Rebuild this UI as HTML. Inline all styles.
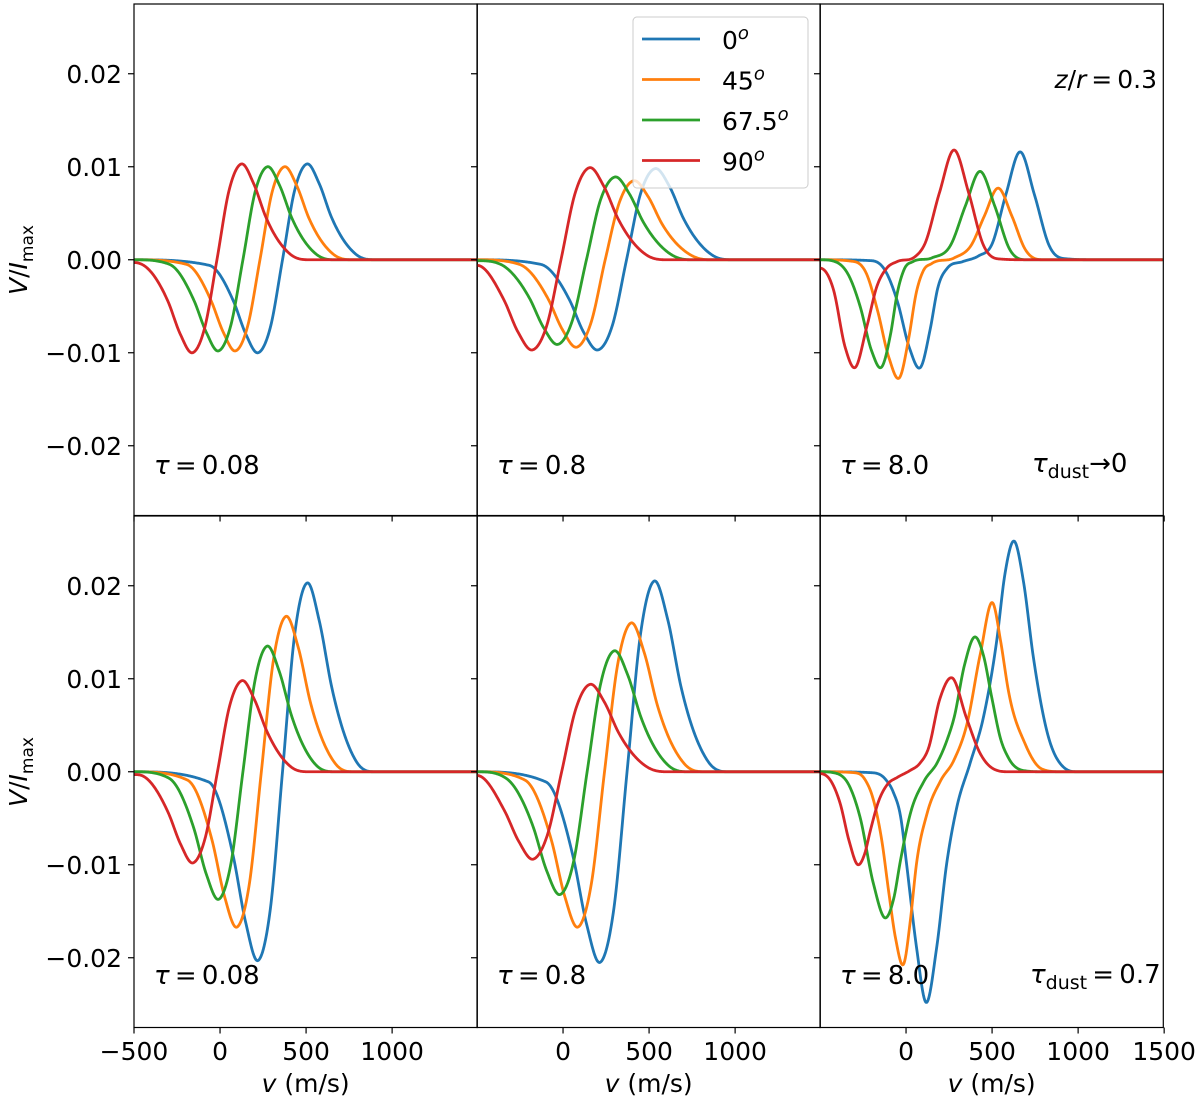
<!DOCTYPE html>
<html><head><meta charset="utf-8">
<style>
html,body{margin:0;padding:0;background:#fff;}
svg{display:block;font-family:"DejaVu Sans","Liberation Sans",sans-serif;}
</style></head>
<body>
<svg id="chart" width="1200" height="1101" viewBox="0 0 1200 1101" xmlns="http://www.w3.org/2000/svg"></svg>
<script>
// ---- data ----
const xTicksFirst = [-500, 0, 500, 1000];
const xTicksMid = [0, 500, 1000];
const xTicksLast = [0, 500, 1000, 1500];
const yTicks = [-0.02, -0.01, 0.00, 0.01, 0.02];
const yTickLabels = ["\u22120.02", "\u22120.01", "0.00", "0.01", "0.02"];
const seriesNames = ["0", "45", "67.5", "90"];
const seriesColors = ["#1f77b4", "#ff7f0e", "#2ca02c", "#d62728"];
const tauLabels = ["0.08", "0.8", "8.0"];

// knots [v, V] per curve: panel r{row}c{col}, order blue, orange, green, red
const r0c0_blue   = [[-500,0],[-63,-0.0006],[79,-0.0045],[150,-0.0080],[221,-0.0100],[292,-0.0073],[363,0],[434,0.0075],[505,0.0103],[576,0.0082],[647,0.0046],[789,0.0006],[900,0],[1500,0]];
const r0c0_orange = [[-500,0],[-194,-0.0005],[-52,-0.0044],[19,-0.0078],[90,-0.0098],[161,-0.0071],[232,0],[303,0.0073],[374,0.0100],[445,0.0080],[516,0.0045],[658,0.0006],[760,0],[1500,0]];
const r0c0_green  = [[-500,0],[-293,-0.0005],[-151,-0.0044],[-80,-0.0078],[-9,-0.0098],[62,-0.0071],[133,0],[204,0.0073],[275,0.0100],[346,0.0080],[417,0.0045],[559,0.0006],[660,0],[1500,0]];
const r0c0_red    = [[-500,-0.0003],[-444,-0.0006],[-302,-0.0045],[-231,-0.0080],[-160,-0.0100],[-89,-0.0073],[-18,0],[53,0.0075],[124,0.0103],[195,0.0082],[266,0.0046],[408,0.0006],[520,0],[1500,0]];

const r0c1_blue   = [[-500,0],[-129,-0.0005],[37,-0.0043],[120,-0.0078],[203,-0.0097],[286,-0.0071],[369,0],[452,0.0072],[535,0.0098],[618,0.0079],[701,0.0044],[867,0.0005],[980,0],[1500,0]];
const r0c1_orange = [[-500,0],[-253,-0.0005],[-87,-0.0042],[-4,-0.0075],[79,-0.0094],[162,-0.0068],[245,0],[328,0.0062],[411,0.0085],[494,0.0068],[577,0.0038],[743,0.0005],[850,0],[1500,0]];
const r0c1_green  = [[-500,-0.0001],[-362,-0.0005],[-196,-0.0041],[-113,-0.0073],[-30,-0.0091],[53,-0.0066],[136,0],[219,0.0065],[302,0.0089],[385,0.0071],[468,0.0040],[634,0.0005],[740,0],[1500,0]];
const r0c1_red    = [[-500,-0.0006],[-344,-0.0043],[-261,-0.0078],[-178,-0.0097],[-95,-0.0071],[-12,0],[71,0.0072],[154,0.0099],[237,0.0079],[320,0.0044],[486,0.0005],[600,0],[1500,0]];

const r0c2_blue   = [[-500,0],[-200,-0.0001],[-120,-0.0012],[-50,-0.0045],[20,-0.0095],[87,-0.0115],[140,-0.0075],[185,-0.0030],[240,-0.0009],[330,-0.0002],[420,0.0004],[500,0.0017],[580,0.0070],[663,0.0116],[746,0.0070],[830,0.0016],[935,0.0001],[1100,0],[1500,0]];
const r0c2_orange = [[-500,0],[-300,-0.0002],[-230,-0.0015],[-165,-0.0055],[-100,-0.0105],[-35,-0.0126],[15,-0.0085],[60,-0.0035],[100,-0.0012],[150,-0.0004],[280,0.0002],[380,0.0016],[455,0.0047],[535,0.0077],[615,0.0047],[690,0.0012],[800,0],[1500,0]];
const r0c2_green  = [[-500,0],[-400,-0.0003],[-330,-0.0018],[-267,-0.0050],[-200,-0.0098],[-140,-0.0115],[-90,-0.0080],[-50,-0.0035],[-10,-0.0010],[40,-0.0002],[150,0.0002],[260,0.0016],[345,0.0058],[430,0.0095],[515,0.0058],[600,0.0012],[700,0],[1500,0]];
const r0c2_red    = [[-500,-0.0009],[-422,-0.0032],[-354,-0.0094],[-297,-0.0116],[-228,-0.0072],[-170,-0.0029],[-112,-0.0009],[-52,-0.0002],[50,0.0003],[109,0.0017],[194,0.0072],[279,0.0118],[364,0.0072],[449,0.0016],[534,0.0001],[700,0],[1500,0]];

const r1c0_blue   = [[-500,0],[-66,-0.0011],[77,-0.0091],[149,-0.0162],[221,-0.0203],[292,-0.0148],[363,0],[434,0.0148],[506,0.0203],[577,0.0162],[649,0.0091],[792,0.0011],[900,0],[1500,0]];
const r1c0_orange = [[-500,0],[-189,-0.0009],[-46,-0.0074],[26,-0.0134],[99,-0.0167],[170,-0.0121],[240,0],[311,0.0121],[382,0.0167],[454,0.0134],[526,0.0074],[669,0.0009],[780,0],[1500,0]];
const r1c0_green  = [[-500,0],[-296,-0.0007],[-152,-0.0061],[-80,-0.0110],[-6,-0.0137],[63,-0.0099],[133,0],[203,0.0098],[272,0.0135],[344,0.0108],[416,0.0060],[559,0.0007],[670,0],[1500,0]];
const r1c0_red    = [[-500,-0.0003],[-444,-0.0005],[-301,-0.0044],[-229,-0.0078],[-157,-0.0098],[-86,-0.0071],[-15,0],[56,0.0071],[128,0.0098],[199,0.0078],[271,0.0044],[414,0.0005],[520,0],[1500,0]];

const r1c1_blue   = [[-500,0],[-99,-0.0011],[58,-0.0091],[137,-0.0164],[215,-0.0205],[294,-0.0149],[372,0],[451,0.0149],[529,0.0205],[608,0.0164],[686,0.0091],[843,0.0011],[960,0],[1500,0]];
const r1c1_orange = [[-500,0],[-221,-0.0009],[-67,-0.0074],[10,-0.0134],[87,-0.0167],[164,-0.0121],[241,0],[318,0.0116],[395,0.0160],[472,0.0128],[549,0.0071],[703,0.0009],[820,0],[1500,0]];
const r1c1_green  = [[-500,0],[-331,-0.0007],[-174,-0.0059],[-96,-0.0106],[-17,-0.0132],[62,-0.0096],[140,0],[219,0.0095],[297,0.0130],[376,0.0104],[454,0.0058],[611,0.0007],[720,0],[1500,0]];
const r1c1_red    = [[-500,-0.0004],[-340,-0.0042],[-257,-0.0075],[-174,-0.0094],[-91,-0.0068],[-8,0],[75,0.0068],[157,0.0094],[240,0.0075],[323,0.0042],[490,0.0005],[600,0],[1500,0]];

const r1c2_blue   = [[-500,0],[-200,-0.0001],[-120,-0.0008],[-74,-0.0022],[-30,-0.0050],[3,-0.0099],[61,-0.0189],[116,-0.0248],[178,-0.0189],[236,-0.0099],[294,-0.0039],[372,0.0009],[449,0.0058],[527,0.0141],[575,0.0213],[628,0.0248],[682,0.0205],[740,0.0123],[818,0.0044],[915,0.0005],[1000,0],[1500,0]];
const r1c2_orange = [[-500,0],[-300,-0.0001],[-240,-0.0008],[-190,-0.0030],[-140,-0.0075],[-100,-0.0130],[-60,-0.0180],[-12,-0.0206],[25,-0.0160],[60,-0.0100],[122,-0.0045],[200,-0.0010],[277,0.0012],[355,0.0052],[432,0.0127],[506,0.0181],[550,0.0140],[595,0.0087],[692,0.0030],[789,0.0003],[900,0],[1500,0]];
const r1c2_green  = [[-500,0],[-400,-0.0002],[-330,-0.0015],[-267,-0.0049],[-190,-0.0120],[-116,-0.0157],[-70,-0.0135],[-33,-0.0096],[25,-0.0045],[105,-0.0010],[182,0.0010],[240,0.0035],[279,0.0058],[340,0.0115],[401,0.0145],[450,0.0125],[498,0.0080],[550,0.0035],[595,0.0015],[692,0.0001],[800,0],[1500,0]];
const r1c2_red    = [[-500,-0.0002],[-430,-0.0012],[-383,-0.0034],[-330,-0.0075],[-279,-0.0100],[-240,-0.0088],[-207,-0.0063],[-160,-0.0032],[-110,-0.0014],[-50,-0.0006],[20,0.0001],[80,0.0009],[130,0.0025],[196,0.0078],[267,0.0101],[351,0.0058],[430,0.0020],[500,0.0004],[600,0],[1500,0]];

const panelCurves = [
  [[r0c0_blue,r0c0_orange,r0c0_green,r0c0_red],[r0c1_blue,r0c1_orange,r0c1_green,r0c1_red],[r0c2_blue,r0c2_orange,r0c2_green,r0c2_red]],
  [[r1c0_blue,r1c0_orange,r1c0_green,r1c0_red],[r1c1_blue,r1c1_orange,r1c1_green,r1c1_red],[r1c2_blue,r1c2_orange,r1c2_green,r1c2_red]]
];

// ---- layout ----
const NS = "http://www.w3.org/2000/svg";
const svg = document.getElementById('chart');
const colX = [134, 477, 820];
const panelW = 343.3;
const rowY = [4, 516];
const panelH = 511.5;
const xMin = -500, xMax = 1495;
const yMin = -0.0275, yMax = 0.0275;
function sx(c, v){ return colX[c] + (v - xMin) / (xMax - xMin) * panelW; }
function sy(r, V){ return rowY[r] + (yMax - V) / (yMax - yMin) * panelH; }

function mk(tag, attrs, parent){
  const e = document.createElementNS(NS, tag);
  for (const k in attrs) e.setAttribute(k, attrs[k]);
  (parent || svg).appendChild(e);
  return e;
}
// Hermite spline evaluated as a function of v (no x overshoot)
function tangents(k){
  const n = k.length, m = new Array(n).fill(0);
  for (let i = 1; i < n - 1; i++){
    const h0 = k[i][0] - k[i-1][0], h1 = k[i+1][0] - k[i][0];
    const d0 = (k[i][1] - k[i-1][1]) / h0, d1 = (k[i+1][1] - k[i][1]) / h1;
    m[i] = (d0 * h1 + d1 * h0) / (h0 + h1);
    // limit to avoid overshoot near flat parts
    if (d0 * d1 <= 0 && (Math.abs(d0) < 1e-9 || Math.abs(d1) < 1e-9)) m[i] = 0;
    const lim = 3 * Math.min(Math.abs(d0), Math.abs(d1));
    if (d0 * d1 > 0 && Math.abs(m[i]) > lim) m[i] = Math.sign(m[i]) * lim;
  }
  return m;
}
function evalCurve(k, m, v){
  if (v <= k[0][0]) return k[0][1];
  if (v >= k[k.length-1][0]) return k[k.length-1][1];
  let i = 0;
  while (k[i+1][0] < v) i++;
  const h = k[i+1][0] - k[i][0], t = (v - k[i][0]) / h;
  const t2 = t*t, t3 = t2*t;
  return (2*t3-3*t2+1)*k[i][1] + (t3-2*t2+t)*h*m[i] + (-2*t3+3*t2)*k[i+1][1] + (t3-t2)*h*m[i+1];
}
function curvePath(c, r, k){
  const m = tangents(k);
  let d = '';
  for (let v = xMin; v <= xMax; v += 4){
    const x = sx(c, v), y = sy(r, evalCurve(k, m, v));
    d += (d ? ' L' : 'M') + x.toFixed(2) + ',' + y.toFixed(2);
  }
  return d;
}

for (let r = 0; r < 2; r++){
  for (let c = 0; c < 3; c++){
    const g = mk('g', {});
    
    
    const clipId = 'clip' + r + c;
    const cp = mk('clipPath', {id: clipId}, g);
    mk('rect', {x: colX[c], y: rowY[r], width: panelW, height: panelH}, cp);
    const curves = panelCurves[r][c];
    for (let s = 0; s < curves.length; s++){
      const p = mk('path', {d: curvePath(c, r, curves[s]), fill: 'none', stroke: seriesColors[s], 'stroke-width': 2.8, 'clip-path': 'url(#' + clipId + ')', 'stroke-linejoin':'round'}, g);
      
      
    }
    for (let i = 0; i < yTicks.length; i++){
      const y = sy(r, yTicks[i]);
      const tk = mk('line', {x1: colX[c]-6, x2: colX[c], y1: y, y2: y, stroke:'#000', 'stroke-width':1.2}, g);
      
      
      if (c === 0){
        const t = mk('text', {x: 122, y: y + 9, 'font-size': 25, 'text-anchor': 'end', fill: '#000'}, g);
        t.textContent = yTickLabels[i];
        
        
      }
    }
    const xt = c === 0 ? xTicksFirst : (c === 1 ? xTicksMid : xTicksLast);
    for (let i = 0; i < xt.length; i++){
      const x = sx(c, xt[i]);
      const by = rowY[r] + panelH;
      const tk = mk('line', {x1: x, x2: x, y1: by, y2: by + 6, stroke:'#000', 'stroke-width':1.2}, g);
      
      
      if (r === 1){
        const t = mk('text', {x: x, y: 1060, 'font-size': 25, 'text-anchor': 'middle', fill: '#000'}, g);
        t.textContent = xt[i] < 0 ? '\u2212' + Math.abs(xt[i]) : String(xt[i]);
        
        
      }
    }
    const fr = mk('rect', {x: colX[c], y: rowY[r], width: panelW, height: panelH, fill:'none', stroke:'#000', 'stroke-width':1.2}, g);
    
    
    const tl = mk('text', {x: colX[c] + 20, y: rowY[r] + (r === 0 ? 470 : 468), 'font-size': 26, fill:'#000'}, g);
    
    
    tl.innerHTML = '<tspan font-style="italic">\u03c4</tspan>\u2009=\u2009' + tauLabels[c];
    if (r === 1){
      const xl = mk('text', {x: colX[c] + panelW/2, y: 1092, 'font-size': 25, 'text-anchor':'middle', fill:'#000'}, g);
      
      
      xl.innerHTML = '<tspan font-style="italic">v</tspan> (m/s)';
    }
  }
  const yl = mk('text', {x: 0, y: 0, 'font-size': 25, 'text-anchor':'middle', fill:'#000', transform: 'translate(27,' + (rowY[r] + 256) + ') rotate(-90)'});
  
  
  yl.innerHTML = '<tspan font-style="italic">V</tspan>/<tspan font-style="italic">I</tspan><tspan font-size="17" dy="6">max</tspan>';
}

const a1 = mk('text', {x: 1157, y: 88, 'font-size': 25, 'text-anchor':'end', fill:'#000'});


a1.innerHTML = '<tspan font-style="italic">z</tspan>/<tspan font-style="italic">r</tspan>\u2009=\u20090.3';
const a2 = mk('text', {x: 1032, y: 472, 'font-size': 26, fill:'#000'});


a2.innerHTML = '<tspan font-style="italic">\u03c4</tspan><tspan font-size="19" dy="6">dust</tspan><tspan dy="-6">\u21920</tspan>';
const a3 = mk('text', {x: 1030, y: 983, 'font-size': 26, fill:'#000'});


a3.innerHTML = '<tspan font-style="italic">\u03c4</tspan><tspan font-size="19" dy="6">dust</tspan><tspan dy="-6">\u2009=\u20090.7</tspan>';

const lg = mk('g', {});


mk('rect', {x: 633, y: 17, width: 175, height: 171, rx: 4, fill: '#fff', 'fill-opacity': 0.8, stroke: '#ccc', 'stroke-width': 1}, lg);
for (let s = 0; s < seriesNames.length; s++){
  const y = 39 + s * 40.5;
  const e = mk('g', {}, lg);
  
  
  mk('line', {x1: 642, x2: 700, y1: y, y2: y, stroke: seriesColors[s], 'stroke-width': 2.8}, e);
  const t = mk('text', {x: 722, y: y + 10, 'font-size': 25, fill: '#000'}, e);
  t.innerHTML = seriesNames[s] + '<tspan font-size="18" dy="-10" font-style="italic">o</tspan>';
}
</script>
</body></html>
